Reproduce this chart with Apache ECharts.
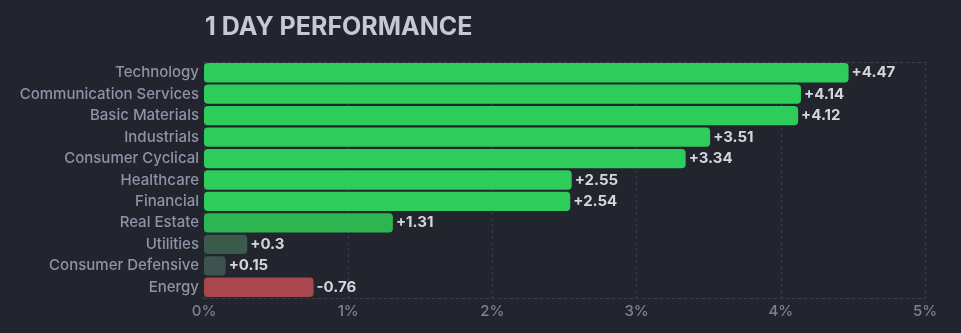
<!DOCTYPE html>
<html><head><meta charset="utf-8">
<script src="https://cdn.jsdelivr.net/npm/echarts@6/dist/echarts.min.js"></script>
<style>html,body{margin:0;padding:0;background:#22252e;}#c{width:961px;height:333px;}</style>
</head><body><div id="c"></div>
<script>
const categories = ["Technology","Communication Services","Basic Materials","Industrials","Consumer Cyclical","Healthcare","Financial","Real Estate","Utilities","Consumer Defensive","Energy"];
const performance = [4.47,4.14,4.12,3.51,3.34,2.55,2.54,1.31,0.3,0.15,-0.76];
const barColors = ["#2ecc5b","#2ecc5b","#2ecc5b","#2ecc5b","#2ecc5b","#2ecc5b","#2ecc5b","#2db552","#3a5a4b","#3d534d","#a8474c"];
const xTicks = [0,1,2,3,4,5];

const fontFam = "Inter, 'Noto Sans', sans-serif";
const chart = echarts.init(document.getElementById('c'));
chart.setOption({
  backgroundColor: '#22252e',
  animation: false,
  title: { text: '1 DAY PERFORMANCE', left: 200, top: 10,
    textStyle: { color: '#c6c9d4', fontSize: 25, fontWeight: 'bold', fontFamily: fontFam } },
  grid: { left: 204, right: 36, top: 62, bottom: 35, containLabel: false },
  xAxis: [{
    type: 'value', min: xTicks[0], max: xTicks[xTicks.length-1], interval: 1,
    axisLine: { show: true, lineStyle: { color: '#3a3e4b', type: [3,3] } },
    axisTick: { show: false },
    splitLine: { show: true, lineStyle: { color: '#3a3e4b', type: [3,3] } },
    axisLabel: { color: '#7d8297', fontSize: 15, fontWeight: 500, fontFamily: fontFam, margin: 6, formatter: v => v + '%' }
  },{
    type: 'value', position: 'top', min: 0, max: 5, interval: 1,
    axisLine: { show: true, lineStyle: { color: '#3a3e4b', type: [3,3] } },
    axisTick: { show: false }, axisLabel: { show: false }, splitLine: { show: false }
  }],
  yAxis: {
    type: 'category', data: categories, inverse: true,
    axisLine: { show: false }, axisTick: { show: false },
    axisLabel: { color: '#8e93a8', fontSize: 15, fontWeight: 500, fontFamily: fontFam, margin: 5 }
  },
  series: [{
    type: 'bar', xAxisIndex: 0,
    barWidth: '90%',
    data: performance.map((v, i) => ({ value: Math.abs(v), itemStyle: { color: barColors[i] } })),
    itemStyle: { borderRadius: 4 },
    label: { show: true, position: 'right', distance: 3, color: '#d4d6de', fontSize: 15, fontWeight: 'bold', fontFamily: fontFam,
      formatter: p => (performance[p.dataIndex] > 0 ? '+' : '') + performance[p.dataIndex] }
  }]
});
</script></body></html>
